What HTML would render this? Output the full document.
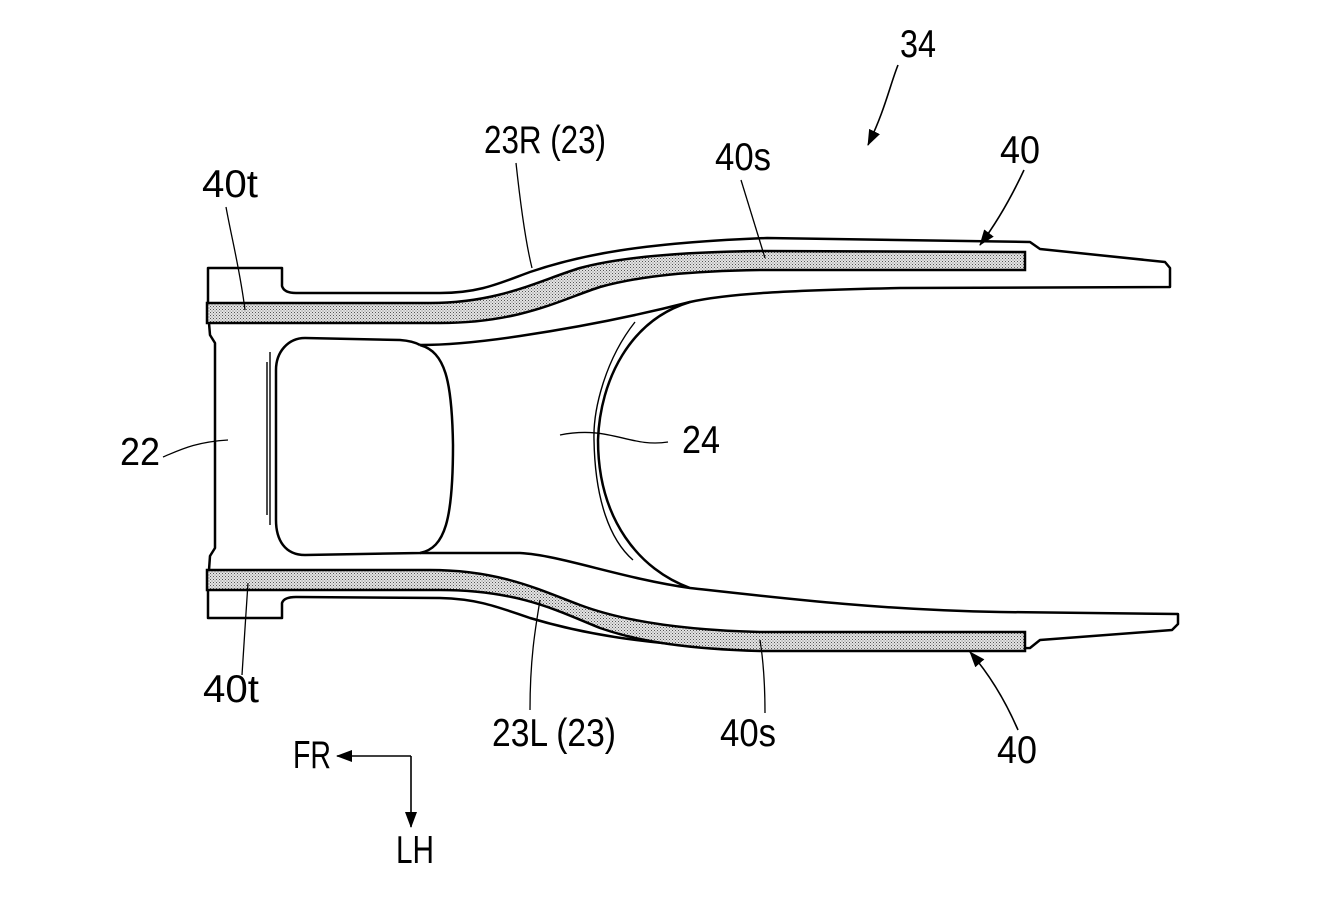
<!DOCTYPE html>
<html><head><meta charset="utf-8"><style>
html,body{margin:0;padding:0;background:#fff;}
svg{display:block;}
text{font-family:"Liberation Sans",sans-serif;font-size:39px;fill:#000;}
</style></head><body>
<svg width="1339" height="913" viewBox="0 0 1339 913" xmlns="http://www.w3.org/2000/svg">
<defs>
<pattern id="dots" width="3" height="3" patternUnits="userSpaceOnUse">
<rect width="3" height="3" fill="#e4e4e4"/>
<rect width="1" height="1" fill="#555"/>
<rect x="1.5" y="1.5" width="1" height="1" fill="#777"/>
</pattern>
<marker id="ahb" markerWidth="16" markerHeight="12" refX="15" refY="6" orient="auto" markerUnits="userSpaceOnUse">
<path d="M0,0 L16,6 L0,12 z" fill="#000"/>
</marker>
</defs>
<g fill="none" stroke="#000" stroke-width="2.5" stroke-linejoin="round">
<path d="M208,303 L208,268 L282,268 L282,286 Q284,293 296,293 L440,293 C480,293 500,283 530,272 C580,255 640,243 767,238 L1030,242 L1040,249 L1165,262 L1170,268 L1170,287 L900,288 C800,290 730,293 690,302 C620,320 560,330 520,336 C480,342 450,345 420,345"/>
<path d="M208,590 L208,618 L282,618 L282,603 Q284,597 296,597 L440,598 C480,599 500,608 530,618 C580,633 640,645 767,650 L1030,648 L1040,640 L1172,630 L1178,624 L1178,614 L1000,612 C880,610 780,598 690,588 C620,578 560,555 520,553 L420,553"/>
<path d="M209,323 L210,335 L215,343 L215,548 L210,556 L209,570"/>
<path d="M420,345 C445,352 452,380 453,445 C453,520 445,548 420,553 L305,555 C285,555 276,540 276,520 L276,370 C276,352 288,338 305,338 L400,340 Q413,341 420,345"/>
<path d="M690,302 C630,320 600,380 598,440 C598,520 640,570 690,588"/>
</g>
<g fill="none" stroke="#000" stroke-width="1.4">
<path d="M270,352 L270,525"/><path d="M267,362 L267,515"/>
<path d="M635,322 C605,360 593,410 594,440 C595,500 610,540 633,560"/>
</g>
<g fill="url(#dots)" stroke="#000" stroke-width="2.5">
<path d="M207,303 L430,303 C500,303 540,280 580,268 C620,257 680,252 760,251 L1025,252 L1025,270 L760,270 C690,271 640,276 600,287 C560,300 520,323 440,323 L207,323 Z"/>
<path d="M207,570 L430,570 C500,570 540,590 580,605 C620,620 680,630 760,632 L1025,632 L1025,651 L760,651 C690,649 640,642 600,628 C560,612 520,590 440,590 L207,590 Z"/>
</g>
<g fill="none" stroke="#000" stroke-width="1.3">
<path d="M226,207 C232,240 240,270 245,310"/>
<path d="M516,163 C520,200 525,240 532,268"/>
<path d="M741,180 C750,210 758,235 765,258"/>
<path d="M163,457 C180,450 195,442 228,440"/>
<path d="M560,435 C610,425 630,448 668,442"/>
<path d="M242,675 C244,640 246,615 248,583"/>
<path d="M530,710 C530,660 535,630 540,600"/>
<path d="M765,713 C765,690 764,665 760,640"/>
</g>
<g fill="none" stroke="#000" stroke-width="1.6">
<path d="M898,65 C890,85 885,110 868,145" marker-end="url(#ahb)"/>
<path d="M1024,170 C1010,200 995,225 980,245" marker-end="url(#ahb)"/>
<path d="M1018,730 C1005,700 990,675 970,652" marker-end="url(#ahb)"/>
<path d="M411,756 L337,756" marker-end="url(#ahb)"/>
<path d="M411,756 L411,827" marker-end="url(#ahb)"/>
</g>
<text x="900" y="57" textLength="36" lengthAdjust="spacingAndGlyphs">34</text>
<text x="484" y="153" textLength="122" lengthAdjust="spacingAndGlyphs">23R (23)</text>
<text x="715" y="170" textLength="56" lengthAdjust="spacingAndGlyphs">40s</text>
<text x="1000" y="163" textLength="40" lengthAdjust="spacingAndGlyphs">40</text>
<text x="202" y="197" textLength="56" lengthAdjust="spacingAndGlyphs">40t</text>
<text x="120" y="465" textLength="40" lengthAdjust="spacingAndGlyphs">22</text>
<text x="682" y="453" textLength="38" lengthAdjust="spacingAndGlyphs">24</text>
<text x="203" y="702" textLength="56" lengthAdjust="spacingAndGlyphs">40t</text>
<text x="492" y="746" textLength="124" lengthAdjust="spacingAndGlyphs">23L (23)</text>
<text x="720" y="746" textLength="56" lengthAdjust="spacingAndGlyphs">40s</text>
<text x="997" y="763" textLength="40" lengthAdjust="spacingAndGlyphs">40</text>
<text x="293" y="768" textLength="38" lengthAdjust="spacingAndGlyphs">FR</text>
<text x="396" y="863" textLength="38" lengthAdjust="spacingAndGlyphs">LH</text>
</svg>
</body></html>
